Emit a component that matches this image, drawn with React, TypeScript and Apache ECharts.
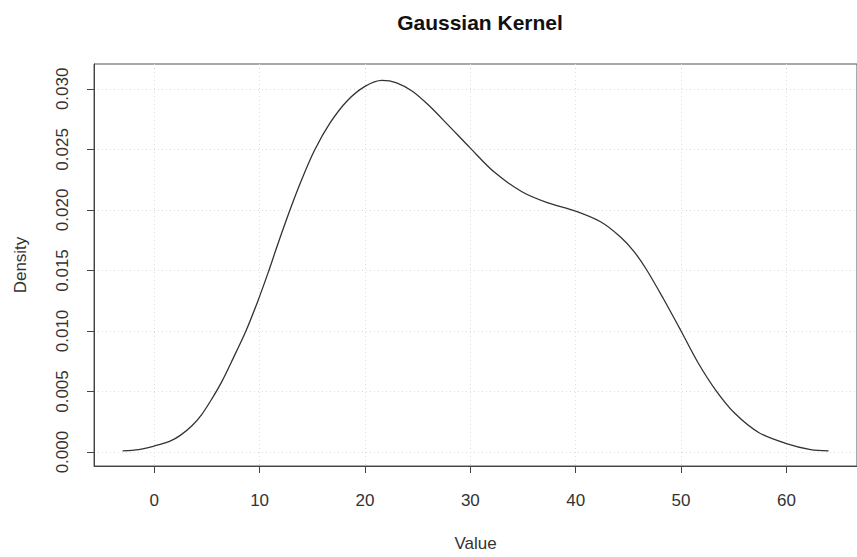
import React, { useEffect, useRef } from "react";
import * as echarts from "echarts";

// Density estimate (x value, density)
const xValues = [
  -3.0, -1.5, 0, 1.5, 2.5, 3.6, 4.5, 5.4, 6.4, 7.3, 8.7, 9.8, 10.8, 11.7, 12.8,
  13.9, 15.2, 16.7, 18.3, 20.0, 21.6, 23.0, 24.5, 26.1, 27.9, 30.0, 32.3, 34.9,
  37.3, 40.0, 42.4, 44.2, 45.5, 46.7, 48.3, 50.0, 51.6, 53.3, 55.1, 57.4, 60.0,
  62.3, 64.0,
];
const densities = [
  0.0001, 0.0002, 0.0005, 0.0009, 0.0014, 0.0022, 0.0031, 0.0043, 0.0058,
  0.0074, 0.01, 0.0124, 0.0148, 0.0171, 0.0198, 0.0223, 0.0249, 0.0272, 0.029,
  0.0302, 0.0307, 0.0305, 0.0298, 0.0286, 0.027, 0.0251, 0.0231, 0.0215,
  0.0206, 0.0199, 0.019, 0.0178, 0.0166, 0.0151, 0.0127, 0.01, 0.0074, 0.0051,
  0.0032, 0.0016, 0.0007, 0.0002, 0.0001,
];
const xTicks = [0, 10, 20, 30, 40, 50, 60];
const yTicks = [0, 0.005, 0.01, 0.015, 0.02, 0.025, 0.03];

const titleText = "Gaussian Kernel";
const xName = "Value";
const yName = "Density";

const FONT = "'Liberation Sans', Arial, Helvetica, sans-serif";

export default function App() {
  const ref = useRef<HTMLDivElement>(null);

  useEffect(() => {
    document.body.style.margin = "0";
    if (!ref.current) return;
    const chart = echarts.init(ref.current, undefined, { renderer: "svg" });
    const data = xValues.map((x, i) => [x, densities[i]]);
    chart.setOption({
      animation: false,
      backgroundColor: "#ffffff",
      textStyle: { fontFamily: FONT },
      graphic: [
        {
          type: "text",
          x: 480,
          y: 22,
          style: {
            text: titleText,
            fontFamily: FONT,
            fontSize: 21,
            fontWeight: "bold",
            fill: "#111",
            textAlign: "center",
            textVerticalAlign: "middle",
          },
        },
      ],
      grid: {
        left: 94,
        right: -9.5,
        top: 64,
        bottom: 88,
        show: true,
        borderColor: "#555",
        borderWidth: 1,
        containLabel: false,
      },
      xAxis: {
        type: "value",
        min: -5.72,
        max: 66.7,
        name: xName,
        nameLocation: "middle",
        nameGap: 69,
        nameTextStyle: { fontFamily: FONT, fontSize: 17, color: "#333" },
        axisLine: { show: true, onZero: false, lineStyle: { color: "#444", width: 1 } },
        axisTick: {
          show: true,
          length: 7,
          customValues: xTicks,
          lineStyle: { color: "#444" },
        },
        axisLabel: {
          customValues: xTicks,
          margin: 26,
          fontFamily: FONT,
          fontSize: 17,
          color: "#333",
        },
        splitLine: {
          show: true,
          lineStyle: { color: "#dcdcdc", type: [1, 3], width: 1 },
        },
      },
      yAxis: {
        type: "value",
        min: -0.00115,
        max: 0.03205,
        name: yName,
        nameLocation: "middle",
        nameGap: 65,
        nameTextStyle: { fontFamily: FONT, fontSize: 17, color: "#333" },
        axisLine: { show: true, onZero: false, lineStyle: { color: "#444", width: 1 } },
        axisTick: {
          show: true,
          length: 7,
          customValues: yTicks,
          lineStyle: { color: "#444" },
        },
        axisLabel: {
          customValues: yTicks,
          rotate: 90,
          margin: 23,
          fontFamily: FONT,
          fontSize: 17,
          color: "#333",
          formatter: (v: number) => v.toFixed(3),
        },
        splitLine: {
          show: true,
          lineStyle: { color: "#dcdcdc", type: [1, 3], width: 1 },
        },
      },
      series: [
        {
          type: "line",
          data,
          smooth: 0.3,
          showSymbol: false,
          symbol: "none",
          lineStyle: { color: "#333", width: 1.3 },
        },
      ],
    });
    return () => chart.dispose();
  }, []);

  return <div ref={ref} style={{ width: 857, height: 557 }} />;
}
